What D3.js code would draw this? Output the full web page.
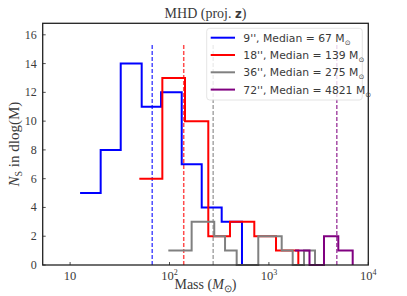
<!DOCTYPE html>
<html>
<head>
<meta charset="utf-8">
<script src="https://cdn.jsdelivr.net/npm/d3@7"></script>
<style>
  body { margin: 0; background: #fff; }
  text { fill: #3a3a3a; }
</style>
</head>
<body>
<div id="chart"></div>
<script>
// bin edges (solar masses) and counts per histogram
const blueEdges = [12.6, 20.3, 32.3, 52.5, 82.2, 132.7, 210.9, 335, 536];
const blueCounts = [5, 8, 14, 11, 12, 7, 4, 3];
const redEdges = [49.7, 84.7, 143.2, 245.6, 406, 713, 1179, 1977];
const redCounts = [6, 13, 10, 2, 3, 2, 1];
const grayEdges = [97.3, 167, 282, 362, 474, 782, 1345, 1735, 2255, 2910];
const grayCounts = [1, 3, 2, 1, 0, 2, 1, 0, 1];
const purpleEdges = [1831, 2561, 3583, 4992, 6966];
const purpleCounts = [1, 0, 2, 1];

const labels = ['9\'\'', '18\'\'', '36\'\'', '72\'\''];
const medians = [67, 139, 275, 4821];
const colors = ['#0000ff', '#ff0000', '#808080', '#800080'];

const xTicks = [10, 100, 1000, 10000];
const yTicks = [0, 2, 4, 6, 8, 10, 12, 14, 16];

const svgWidth = 407, svgHeight = 296;
const mLeft = 42.7, mRight = 368.3, mTop = 23.3, mBottom = 265;

const svg = d3.select('#chart')
  .append('svg')
  .attr('width', svgWidth)
  .attr('height', svgHeight);

const x = d3.scaleLog().domain([5.3, 10000]).range([mLeft, mRight]);
const y = d3.scaleLinear().domain([0, 16.8]).range([mBottom, mTop]);

// median lines
medians.forEach((m, i) => {
  svg.append('line')
    .attr('x1', x(m)).attr('x2', x(m))
    .attr('y1', y(0)).attr('y2', y(15.35))
    .attr('stroke', colors[i])
    .attr('stroke-opacity', 0.7)
    .attr('stroke-width', 1.5)
    .attr('stroke-dasharray', '4,2');
});

// step histograms
const line = d3.line()
  .x(d => x(d[0]))
  .y(d => y(d[1]))
  .curve(d3.curveStepAfter);

const hists = [
  [blueEdges, blueCounts],
  [redEdges, redCounts],
  [grayEdges, grayCounts],
  [purpleEdges, purpleCounts],
];

hists.forEach(([edges, counts], i) => {
  const pts = edges.map((e, j) => [e, j < counts.length ? counts[j] : 0]);
  svg.append('path')
    .attr('d', line(pts))
    .attr('fill', 'none')
    .attr('stroke', colors[i])
    .attr('stroke-width', 2);
});

// frame
svg.append('rect')
  .attr('x', mLeft).attr('y', mTop)
  .attr('width', mRight - mLeft).attr('height', mBottom - mTop)
  .attr('fill', 'none')
  .attr('stroke', '#222')
  .attr('stroke-width', 1.3);

// y ticks
yTicks.forEach(t => {
  svg.append('line')
    .attr('x1', mLeft).attr('x2', mLeft + 3)
    .attr('y1', y(t)).attr('y2', y(t))
    .attr('stroke', '#222').attr('stroke-width', 0.8);
  svg.append('text')
    .attr('x', mLeft - 6)
    .attr('y', y(t) + 4)
    .attr('text-anchor', 'end')
    .style('font-family', 'Liberation Serif, serif')
    .style('font-size', '12px')
    .text(t);
});

// x ticks
xTicks.forEach((t, i) => {
  svg.append('line')
    .attr('x1', x(t)).attr('x2', x(t))
    .attr('y1', mBottom).attr('y2', mBottom - 3)
    .attr('stroke', '#222').attr('stroke-width', 0.8);
  const lbl = svg.append('text')
    .attr('x', x(t))
    .attr('y', mBottom + 15)
    .attr('text-anchor', 'middle')
    .style('font-family', 'Liberation Serif, serif')
    .style('font-size', '12.5px');
  if (i === 0) {
    lbl.text('10');
  } else {
    lbl.append('tspan').text('10');
    lbl.append('tspan')
      .attr('dy', -5)
      .style('font-size', '8px')
      .text(i + 1);
  }
});

// title
const title = svg.append('text')
  .attr('x', (mLeft + mRight) / 2)
  .attr('y', 18)
  .attr('text-anchor', 'middle')
  .style('font-family', 'Liberation Serif, serif')
  .style('font-size', '14px');
title.append('tspan').text('MHD (proj. ');
title.append('tspan')
  .style('font-family', 'DejaVu Sans, sans-serif')
  .style('font-weight', 'bold')
  .style('font-size', '11.5px')
  .text('z');
title.append('tspan').text(')');

// x label
const xl = svg.append('text')
  .attr('x', (mLeft + mRight) / 2)
  .attr('y', 289)
  .attr('text-anchor', 'middle')
  .style('font-family', 'Liberation Serif, serif')
  .style('font-size', '14px');
xl.append('tspan').text('Mass (');
xl.append('tspan').style('font-style', 'italic').text('M');
xl.append('tspan').attr('dy', 3).style('font-size', '9.5px').text('⊙');
xl.append('tspan').attr('dy', -3).text(')');

// y label
const yl = svg.append('text')
  .attr('transform', 'translate(19,' + ((mTop + mBottom) / 2) + ') rotate(-90)')
  .attr('text-anchor', 'middle')
  .style('font-family', 'Liberation Serif, serif')
  .style('font-size', '15px');
yl.append('tspan').style('font-style', 'italic').text('N');
yl.append('tspan').attr('dy', 3).style('font-size', '10px').text('S');
yl.append('tspan').attr('dy', -3).text(' in dlog(M)');

// legend
const lg = svg.append('g');
lg.append('rect')
  .attr('x', 206.7).attr('y', 28.3)
  .attr('width', 155.6).attr('height', 71.7)
  .attr('rx', 3)
  .attr('fill', '#fff')
  .attr('fill-opacity', 0.8)
  .attr('stroke', '#ddd')
  .attr('stroke-width', 0.8);

labels.forEach((l, i) => {
  const ly = 37.7 + i * 17.3;
  lg.append('line')
    .attr('x1', 210.7).attr('x2', 235)
    .attr('y1', ly).attr('y2', ly)
    .attr('stroke', colors[i])
    .attr('stroke-width', 2);
  const t = lg.append('text')
    .attr('x', 243.3)
    .attr('y', ly + 4)
    .style('font-family', 'DejaVu Sans, sans-serif')
    .style('font-size', '10.8px');
  t.append('tspan').text(l + ', Median = ' + medians[i] + ' M');
  t.append('tspan').attr('dy', 3).style('font-size', '7px').text('⊙');
});
</script>
</body>
</html>
